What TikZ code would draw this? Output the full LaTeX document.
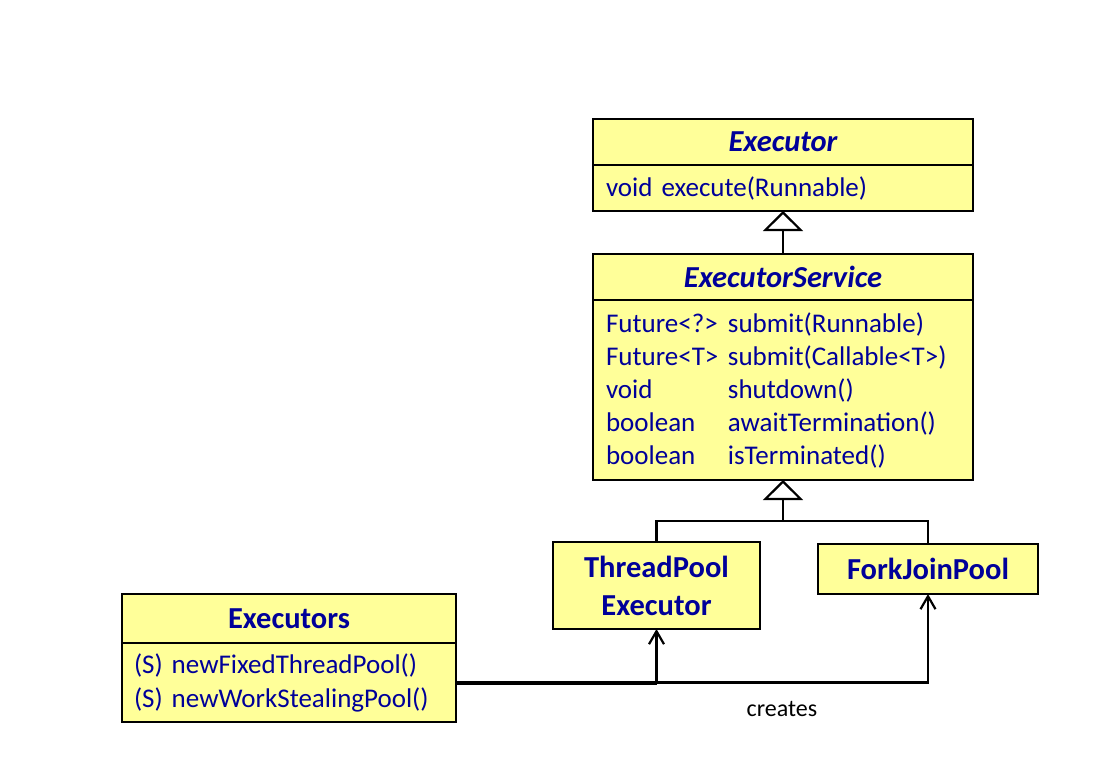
\documentclass[tikz,border=0pt]{standalone}
\usepackage{fontspec}
\setmainfont{Carlito}
\usetikzlibrary{positioning,arrows.meta}
\definecolor{umlfill}{HTML}{FFFF99}
\definecolor{umltext}{HTML}{000099}
\tikzset{
  classhead/.style={draw,line width=2.2pt,fill=umlfill,text=umltext,outer sep=0pt,
    inner sep=0pt,font=\fontsize{30.5}{38}\selectfont\bfseries,align=center},
  classbody/.style={draw,line width=2.2pt,fill=umlfill,text=umltext,outer sep=0pt,
    inner xsep=13pt,inner ysep=0pt,font=\fontsize{27}{33}\selectfont,align=left},
  inherit/.style={line width=2.2pt,-{Triangle[open,length=20pt,width=40pt,line width=2.2pt]}},
  creates/.style={line width=2.2pt,-{Straight Barb[length=13pt,width=15pt,line width=2.2pt]}}
}
\newcommand{\rettype}[1]{\makebox[122pt][l]{#1}}
\begin{document}
\begin{tikzpicture}[x=1pt,y=-1pt]
  \useasboundingbox (0,0) rectangle (1101,773);
  % Executor
  \node[classhead,minimum width=380pt,minimum height=46pt] (exec) at (783,142) {\itshape Executor};
  \node[classbody,text width=354pt,minimum height=46pt,below=0pt of exec] (execbody) {void execute(Runnable)};
  % ExecutorService
  \node[classhead,minimum width=380pt,minimum height=46pt] (svc) at (783,277) {\itshape ExecutorService};
  \node[classbody,text width=354pt,minimum height=180pt,below=0pt of svc] (svcbody) {%
    \rettype{Future<?>}submit(Runnable)\\
    \rettype{Future<T>}submit(Callable<T>)\\
    \rettype{void}shutdown()\\
    \rettype{boolean}awaitTermination()\\
    \rettype{boolean}isTerminated()};
  % implementations
  \node[classhead,minimum width=207pt,minimum height=87pt] (tpe) at (656.5,585.5) {ThreadPool\\Executor};
  \node[classhead,minimum width=220pt,minimum height=50pt] (fjp) at (928,569) {ForkJoinPool};
  % Executors
  \node[classhead,minimum width=334pt,minimum height=49pt] (util) at (289,618.5) {Executors};
  \node[classbody,inner xsep=12pt,text width=310pt,minimum height=79pt,below=0pt of util,
    font=\fontsize{27}{34}\selectfont] (utilbody) {%
    (S) newFixedThreadPool()\\
    (S) newWorkStealingPool()};

  \draw[inherit] (svc) -- (execbody);
  \coordinate (join) at (783,521);
  \draw[line width=2.2pt] (tpe.north) |- (join) -| (fjp.north);
  \draw[inherit] (join) -- (svcbody);

  \coordinate (fork) at (tpe.south |- utilbody.east);
  \draw[line width=4pt] (utilbody.east) -- (fork);
  \draw[creates] (fork) -- (tpe);
  \draw[creates] (fork) -| (fjp);
  \node[font=\fontsize{24}{28}\selectfont] (createslabel) at (782,709) {creates};
\end{tikzpicture}
\end{document}
